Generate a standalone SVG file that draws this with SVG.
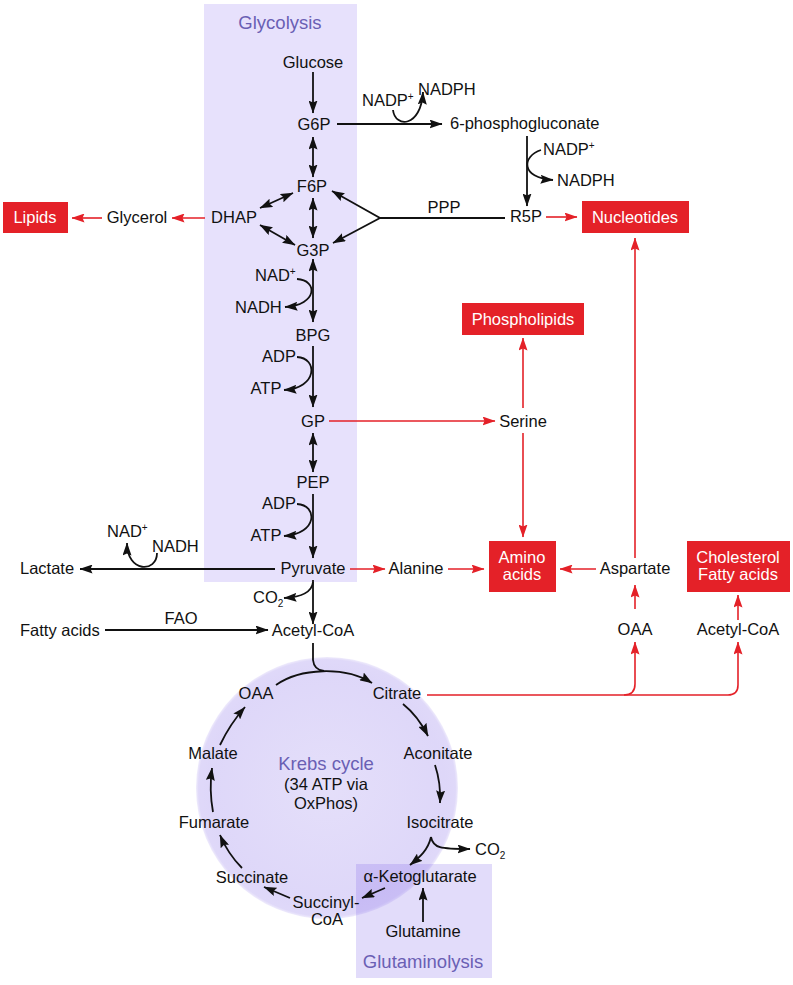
<svg xmlns="http://www.w3.org/2000/svg" width="793" height="985" viewBox="0 0 793 985">
<style>
text{font-family:"Liberation Sans",Arial,Helvetica,sans-serif;font-size:16.5px;fill:#111}
.m{text-anchor:middle}
.w{fill:#fff}
.p{fill:#6a5fb4;font-size:18.5px}
.sup{font-size:10px}
.k{fill:none;stroke:#111;stroke-width:1.8}
.r{fill:none;stroke:#e42128;stroke-width:1.6}
.box{fill:#e42128}
</style>
<defs>
<marker id="ak" viewBox="0 0 13 9" refX="12.5" refY="4.5" markerWidth="13" markerHeight="9" markerUnits="userSpaceOnUse" orient="auto-start-reverse"><path d="M0,0 L13,4.5 L0,9 L2,4.5 z" fill="#111"/></marker>
<marker id="ar" viewBox="0 0 13 9" refX="12.5" refY="4.5" markerWidth="13" markerHeight="9" markerUnits="userSpaceOnUse" orient="auto-start-reverse"><path d="M0,0 L13,4.5 L0,9 L2,4.5 z" fill="#e42128"/></marker>
<radialGradient id="kg" cx="0.5" cy="0.5" r="0.5">
<stop offset="0" stop-color="#7b5fe6" stop-opacity="0.2"/>
<stop offset="0.9" stop-color="#7b5fe6" stop-opacity="0.25"/>
<stop offset="0.98" stop-color="#7b5fe6" stop-opacity="0.24"/>
<stop offset="1" stop-color="#7b5fe6" stop-opacity="0.12"/>
</radialGradient>
</defs>
<rect width="793" height="985" fill="#fff"/>
<g id="regions">
<rect id="glycolysis-region" x="204" y="4" width="153" height="578" fill="#e7e1fc"/>
<circle id="krebs-region" cx="327" cy="788" r="131" fill="url(#kg)"/>
<rect id="glutaminolysis-region" x="356" y="864" width="136" height="114" fill="#7b5fe6" fill-opacity="0.22"/>
<text class="p m" x="280" y="29">Glycolysis</text>
<text class="p m" x="326" y="770">Krebs cycle</text>
<text class="m" x="326" y="790">(34 ATP via</text>
<text class="m" x="326" y="809">OxPhos)</text>
<text class="p m" x="423" y="968">Glutaminolysis</text>
</g>
<g id="connectors">
<path class="k" d="M313,72 L313,113" marker-end="url(#ak)"/>
<path class="k" d="M337,124 L442,124" marker-end="url(#ak)"/>
<path class="k" d="M393,110 C395,128 421,128 423,92" marker-end="url(#ak)"/>
<path class="k" d="M313,137 L313,177" marker-start="url(#ak)" marker-end="url(#ak)"/>
<path class="k" d="M313,198 L313,238" marker-start="url(#ak)" marker-end="url(#ak)"/>
<path class="k" d="M260,208 L293,193" marker-start="url(#ak)" marker-end="url(#ak)"/>
<path class="k" d="M260,225 L295,245" marker-start="url(#ak)" marker-end="url(#ak)"/>
<path class="k" d="M332,191 L380,218 L333,243" marker-start="url(#ak)" marker-end="url(#ak)"/>
<path class="k" d="M380,218 L505,218"/>
<path class="k" d="M527,136 L527,206" marker-end="url(#ak)"/>
<path class="k" d="M541,150 C522,156 520,178 553,180" marker-end="url(#ak)"/>
<path class="k" d="M313,259 L313,322" marker-start="url(#ak)" marker-end="url(#ak)"/>
<path class="k" d="M297,279 C318,280 318,305 285,307" marker-end="url(#ak)"/>
<path class="k" d="M313,346 L313,407" marker-end="url(#ak)"/>
<path class="k" d="M297,357 C318,358 318,388 284,390" marker-end="url(#ak)"/>
<path class="k" d="M313,433 L313,472" marker-start="url(#ak)" marker-end="url(#ak)"/>
<path class="k" d="M313,494 L313,558" marker-end="url(#ak)"/>
<path class="k" d="M297,504 C318,505 318,534 284,536" marker-end="url(#ak)"/>
<path class="k" d="M275,569 L80,569" marker-end="url(#ak)"/>
<path class="k" d="M157,553 C157,573 127,573 127,543" marker-end="url(#ak)"/>
<path class="k" d="M313,580 L313,624" marker-end="url(#ak)"/>
<path class="k" d="M313,582 C312,592 303,597 284,598" marker-end="url(#ak)"/>
<path class="k" d="M105,630 L268,630" marker-end="url(#ak)"/>
<path class="k" d="M313,643 L313,660 Q314,670 324,671"/>
<path class="k" d="M276,685 C300,668 345,666 372,683" marker-end="url(#ak)"/>
<path class="k" d="M403,704 Q418,716 428,736" marker-end="url(#ak)"/>
<path class="k" d="M435,765 Q441,783 440,803" marker-end="url(#ak)"/>
<path class="k" d="M431,837 C433,848 440,849 470,849" marker-end="url(#ak)"/>
<path class="k" d="M431,837 C428,850 420,857 410,865" marker-end="url(#ak)"/>
<path class="k" d="M423,922 L423,888" marker-end="url(#ak)"/>
<path class="k" d="M385,888 L362,898" marker-end="url(#ak)"/>
<path class="k" d="M290,898 L264,887" marker-end="url(#ak)"/>
<path class="k" d="M242,868 Q228,854 220,835" marker-end="url(#ak)"/>
<path class="k" d="M213,812 Q209,790 212,768" marker-end="url(#ak)"/>
<path class="k" d="M220,745 Q230,724 245,707" marker-end="url(#ak)"/>
<path class="r" d="M205,218 L172,218" marker-end="url(#ar)"/>
<path class="r" d="M102,218 L72,218" marker-end="url(#ar)"/>
<path class="r" d="M546,217 L577,217" marker-end="url(#ar)"/>
<path class="r" d="M329,421 L495,421" marker-end="url(#ar)"/>
<path class="r" d="M523,408 L523,338" marker-end="url(#ar)"/>
<path class="r" d="M523,433 L523,537" marker-end="url(#ar)"/>
<path class="r" d="M350,569 L385,569" marker-end="url(#ar)"/>
<path class="r" d="M448,569 L484,569" marker-end="url(#ar)"/>
<path class="r" d="M596,569 L560,569" marker-end="url(#ar)"/>
<path class="r" d="M635,558 L635,238" marker-end="url(#ar)"/>
<path class="r" d="M635,609 L635,585" marker-end="url(#ar)"/>
<path class="r" d="M738,620 L738,595" marker-end="url(#ar)"/>
<path class="r" d="M427,695 L728,695 Q738,695 738,685 L738,642" marker-end="url(#ar)"/>
<path class="r" d="M624,695 Q635,695 635,684 L635,642" marker-end="url(#ar)"/>
</g>
<g id="n-glucose"><text class="m" x="313" y="68">Glucose</text></g>
<g id="n-g6p"><text class="m" x="314" y="130">G6P</text></g>
<g id="n-nadp1"><text x="362" y="106">NADP<tspan class="sup" dy="-6">+</tspan></text></g>
<g id="n-nadph1"><text x="418" y="95">NADPH</text></g>
<g id="n-6pg"><text x="450" y="129">6-phosphogluconate</text></g>
<g id="n-nadp2"><text x="543" y="155">NADP<tspan class="sup" dy="-6">+</tspan></text></g>
<g id="n-nadph2"><text x="557" y="186">NADPH</text></g>
<g id="n-f6p"><text class="m" x="312" y="192">F6P</text></g>
<g id="n-dhap"><text class="m" x="234" y="223">DHAP</text></g>
<g id="n-g3p"><text class="m" x="313" y="256">G3P</text></g>
<g id="n-glycerol"><text class="m" x="137" y="223">Glycerol</text></g>
<g id="n-lipids"><rect class="box" x="3" y="202" width="65" height="31"/><text class="m w" x="35" y="223">Lipids</text></g>
<g id="n-ppp"><text class="m" x="444" y="213">PPP</text></g>
<g id="n-r5p"><text class="m" x="526" y="222">R5P</text></g>
<g id="n-nucleotides"><rect class="box" x="582" y="201" width="107" height="32"/><text class="m w" x="635" y="223">Nucleotides</text></g>
<g id="n-nad1"><text x="255" y="281">NAD<tspan class="sup" dy="-6">+</tspan></text></g>
<g id="n-nadh1"><text x="235" y="313">NADH</text></g>
<g id="n-bpg"><text class="m" x="313" y="341">BPG</text></g>
<g id="n-adp1"><text class="m" x="279" y="362">ADP</text></g>
<g id="n-atp1"><text class="m" x="266" y="394">ATP</text></g>
<g id="n-phospholipids"><rect class="box" x="462" y="303" width="122" height="32"/><text class="m w" x="523" y="325">Phospholipids</text></g>
<g id="n-gp"><text class="m" x="313" y="427">GP</text></g>
<g id="n-serine"><text class="m" x="523" y="427">Serine</text></g>
<g id="n-pep"><text class="m" x="313" y="488">PEP</text></g>
<g id="n-adp2"><text class="m" x="279" y="509">ADP</text></g>
<g id="n-atp2"><text class="m" x="266" y="541">ATP</text></g>
<g id="n-pyruvate"><text class="m" x="313" y="574">Pyruvate</text></g>
<g id="n-lactate"><text x="20" y="574">Lactate</text></g>
<g id="n-nad2"><text x="107" y="537">NAD<tspan class="sup" dy="-6">+</tspan></text></g>
<g id="n-nadh2"><text x="152" y="552">NADH</text></g>
<g id="n-alanine"><text class="m" x="416" y="574">Alanine</text></g>
<g id="n-amino"><rect class="box" x="489" y="541" width="67" height="51"/><text class="m w" x="522" y="563">Amino</text><text class="m w" x="522" y="580">acids</text></g>
<g id="n-aspartate"><text class="m" x="635" y="574">Aspartate</text></g>
<g id="n-cholesterol"><rect class="box" x="687" y="541" width="103" height="51"/><text class="m w" x="738" y="563">Cholesterol</text><text class="m w" x="738" y="580">Fatty acids</text></g>
<g id="n-co2a"><text x="253" y="603">CO<tspan class="sup" dy="4">2</tspan></text></g>
<g id="n-fattyacids"><text x="20" y="636">Fatty acids</text></g>
<g id="n-fao"><text class="m" x="181" y="624">FAO</text></g>
<g id="n-acetylcoa"><text class="m" x="313" y="636">Acetyl-CoA</text></g>
<g id="n-oaa2"><text class="m" x="635" y="635">OAA</text></g>
<g id="n-acetylcoa2"><text class="m" x="738" y="635">Acetyl-CoA</text></g>
<g id="n-oaa"><text class="m" x="256" y="699">OAA</text></g>
<g id="n-citrate"><text class="m" x="397" y="699">Citrate</text></g>
<g id="n-aconitate"><text class="m" x="438" y="759">Aconitate</text></g>
<g id="n-malate"><text class="m" x="213" y="759">Malate</text></g>
<g id="n-isocitrate"><text class="m" x="440" y="828">Isocitrate</text></g>
<g id="n-fumarate"><text class="m" x="214" y="828">Fumarate</text></g>
<g id="n-co2b"><text x="475" y="855">CO<tspan class="sup" dy="4">2</tspan></text></g>
<g id="n-akg"><text class="m" x="420" y="882">α-Ketoglutarate</text></g>
<g id="n-succinate"><text class="m" x="252" y="883">Succinate</text></g>
<g id="n-succinylcoa"><text class="m" x="326" y="908">Succinyl-</text><text class="m" x="327" y="925">CoA</text></g>
<g id="n-glutamine"><text class="m" x="423" y="937">Glutamine</text></g>
</svg>
